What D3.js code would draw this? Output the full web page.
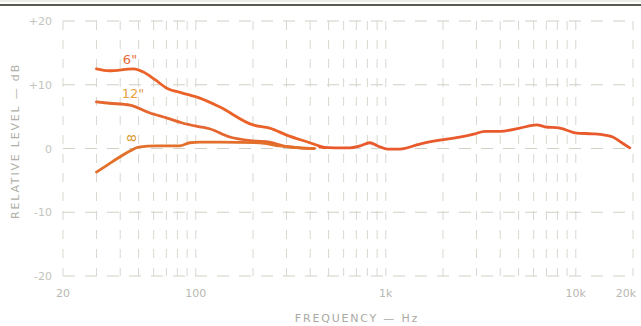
<!DOCTYPE html>
<html><head><meta charset="utf-8">
<script src="https://cdn.jsdelivr.net/npm/d3@7"></script>
<style>body{margin:0;background:#fff}svg{display:block}</style>
</head><body><svg id="c" width="641" height="326"></svg>
<script>
// Frequency (Hz) / relative level (dB)
const freq6 = [30, 35, 47, 53, 61, 70, 85, 105, 134, 200, 245, 301, 398, 477];
const db6   = [12.5, 12.2, 12.5, 12.0, 10.8, 9.5, 8.7, 7.9, 6.5, 3.7, 3.2, 2.1, 0.9, 0.1];
const freq12 = [30, 35, 45, 57, 70, 85, 105, 118, 151, 200, 245, 287, 353, 420];
const db12   = [7.3, 7.1, 6.8, 5.6, 4.8, 4.0, 3.4, 3.1, 1.8, 1.2, 1.0, 0.4, 0.1, 0.0];
const freq8 = [30, 35, 40, 45, 50, 62, 82, 93, 105, 134, 217, 277, 353, 420];
const db8   = [-3.7, -2.4, -1.3, -0.4, 0.2, 0.4, 0.4, 0.9, 1.0, 1.0, 0.9, 0.4, 0.1, 0.0];
const freqAll = [449, 539, 646, 730, 824, 907, 1025, 1185, 1510, 1923, 2450, 2940, 3320, 3981, 5070, 6234, 6870, 8240, 10120, 12290, 14210, 15660, 17460, 19240];
const dbAll   = [0.2, 0.1, 0.1, 0.4, 0.9, 0.4, -0.1, -0.1, 0.7, 1.3, 1.8, 2.3, 2.7, 2.7, 3.2, 3.7, 3.4, 3.2, 2.4, 2.3, 2.1, 1.8, 0.9, 0.1];
const gridFreqs = [20,30,40,50,60,70,80,90,100,200,300,400,500,600,700,800,900,1000,2000,3000,4000,5000,6000,7000,8000,9000,10000,20000];
const yTicks = [20, 10, 0, -10, -20];
const yTickLabels = ["+20", "+10", "0", "-10", "-20"];
const xTickVals = [20, 100, 1000, 10000, 20000];
const xTickLabels = ["20", "100", "1k", "10k", "20k"];
const curveLabels = ["6\"", "12\"", "8"];

const svg = d3.select("#c");
const x = d3.scaleLog().domain([20, 20000]).range([63, 633]);
const y = d3.scaleLinear().domain([-20, 20]).range([276, 21]);

// scanner edge at top
svg.append("line").attr("x1",0).attr("x2",641).attr("y1",5).attr("y2",5)
  .attr("stroke","#5a5a52").attr("stroke-width",2);
svg.append("line").attr("x1",0).attr("x2",641).attr("y1",1).attr("y2",1)
  .attr("stroke","#d8d8d0").attr("stroke-width",1);

const grid = svg.append("g");
grid.selectAll("line.v").data(gridFreqs).join("line")
  .attr("x1", d => x(d)).attr("x2", d => x(d))
  .attr("y1", y(20)).attr("y2", y(-20))
  .attr("stroke", "#d8d8cf").attr("stroke-width", 1)
  .attr("stroke-dasharray", "9,10");
grid.selectAll("line.h").data(yTicks).join("line")
  .attr("x1", x(20)).attr("x2", x(20000))
  .attr("y1", d => y(d)).attr("y2", d => y(d))
  .attr("stroke", "#d0d0c7").attr("stroke-width", 1)
  .attr("stroke-dasharray", "12,10");

// y tick labels
svg.selectAll("text.yt").data(yTicks).join("text")
  .attr("x", 52).attr("y", d => y(d) + 4)
  .attr("text-anchor", "end")
  .attr("font-family", "DejaVu Sans, sans-serif").attr("font-size", 11)
  .attr("fill", "#c4c4bd")
  .text((d,i) => yTickLabels[i]);

// x tick labels
svg.selectAll("text.xt").data(xTickVals).join("text")
  .attr("x", d => Math.min(x(d), 626)).attr("y", 297)
  .attr("text-anchor", "middle")
  .attr("font-family", "DejaVu Sans, sans-serif").attr("font-size", 11)
  .attr("fill", "#b8b8b1")
  .text((d,i) => xTickLabels[i]);

svg.append("text").attr("x", 357).attr("y", 322).attr("text-anchor","middle")
  .attr("font-family","DejaVu Sans, sans-serif").attr("font-size",11)
  .attr("letter-spacing", 1.8).attr("fill","#a9a9a2")
  .text("FREQUENCY — Hz");
svg.append("text").attr("transform","translate(19,141) rotate(-90)").attr("text-anchor","middle")
  .attr("font-family","DejaVu Sans, sans-serif").attr("font-size",11)
  .attr("letter-spacing", 1.8).attr("fill","#b0b0a8")
  .text("RELATIVE LEVEL — dB");

const line = d3.line().x(d => x(d[0])).y(d => y(d[1])).curve(d3.curveMonotoneX);
const series = [
  {f: freq12, v: db12, c: "#e5662e"},
  {f: freq8, v: db8, c: "#e2702a"},
  {f: freq6, v: db6, c: "#ea6228"},
  {f: freqAll, v: dbAll, c: "#e85a2c"}
];
svg.append("g").selectAll("path").data(series).join("path")
  .attr("d", s => line(s.f.map((f,i) => [f, s.v[i]])))
  .attr("fill","none").attr("stroke", s => s.c).attr("stroke-width", 2.8)
  .attr("stroke-linejoin","round").attr("stroke-linecap","round");

// curve labels
svg.append("text").attr("x", 130).attr("y", 64).attr("text-anchor","middle")
  .attr("font-family","DejaVu Sans, sans-serif").attr("font-size",13)
  .attr("fill","#e66a38").text(curveLabels[0]);
svg.append("text").attr("x", 133).attr("y", 98).attr("text-anchor","middle")
  .attr("font-family","DejaVu Sans, sans-serif").attr("font-size",13)
  .attr("fill","#e8a040").text(curveLabels[1]);
svg.append("text").attr("transform","translate(136,138) rotate(-90)").attr("text-anchor","middle")
  .attr("font-family","DejaVu Sans, sans-serif").attr("font-size",13)
  .attr("fill","#d89a30").text(curveLabels[2]);
</script></body></html>
